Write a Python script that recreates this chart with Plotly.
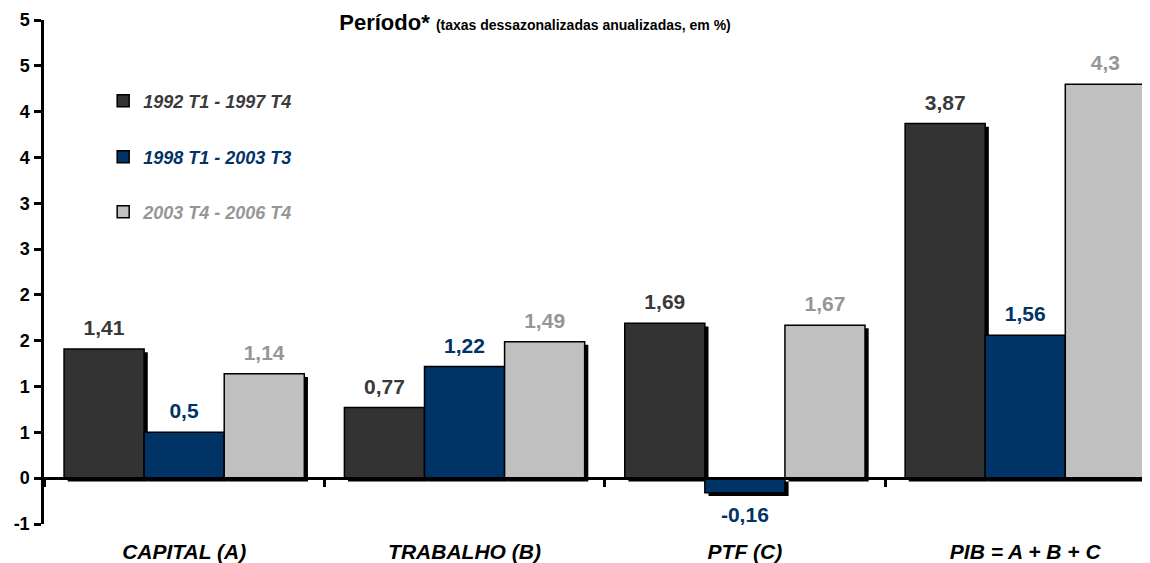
import plotly.graph_objects as go

categories = ["CAPITAL (A)", "TRABALHO (B)", "PTF (C)", "PIB = A + B + C"]
periods = ["1992 T1 - 1997 T4", "1998 T1 - 2003 T3", "2003 T4 - 2006 T4"]
values_1992_1997 = [1.41, 0.77, 1.69, 3.87]
values_1998_2003 = [0.5, 1.22, -0.16, 1.56]
values_2003_2006 = [1.14, 1.49, 1.67, 4.3]
ytick_vals = [-0.5, 0, 0.5, 1, 1.5, 2, 2.5, 3, 3.5, 4, 4.5, 5]
ytick_text = ["-1", "0", "1", "1", "2", "2", "3", "3", "4", "4", "5", "5"]

series = [values_1992_1997, values_1998_2003, values_2003_2006]
bar_colors = ["#333333", "#003366", "#c0c0c0"]
label_colors = ["#3a3a3a", "#003366", "#969696"]
legend_names = ["legend", "legend2", "legend3"]
legend_y = [0.839, 0.728, 0.619]

FONT = "Liberation Sans, Arial, sans-serif"
y_range = [-0.5, 5]
group_width = 0.857
bar_w = group_width / len(series)
shadow_dx = 0.013
shadow_dy = 0.035
label_pad = 0.075  # extra room between bar end and its value label


def fmt(v):
    return f"{v:g}".replace(".", ",")


fig = go.Figure()

# shadows first so they sit underneath
for i, vals in enumerate(series):
    off = -group_width / 2 + i * bar_w
    fig.add_trace(
        go.Bar(
            x=categories,
            y=vals,
            base=-shadow_dy,
            offset=off + shadow_dx,
            width=bar_w,
            marker=dict(color="black", line=dict(width=0)),
            showlegend=False,
            hoverinfo="skip",
        )
    )

for i, vals in enumerate(series):
    off = -group_width / 2 + i * bar_w
    fig.add_trace(
        go.Bar(
            x=categories,
            y=vals,
            offset=off,
            width=bar_w,
            name=periods[i],
            legend=legend_names[i],
            marker=dict(color=bar_colors[i], line=dict(color="black", width=1.5)),
        )
    )
    # transparent twin bar that only carries the value label
    fig.add_trace(
        go.Bar(
            x=categories,
            y=[v + (label_pad if v >= 0 else -label_pad) for v in vals],
            offset=off,
            width=bar_w,
            marker=dict(color="rgba(0,0,0,0)", line=dict(width=0)),
            text=[fmt(v) for v in vals],
            textposition="outside",
            textfont=dict(family=FONT, size=21, color=label_colors[i], weight="bold"),
            cliponaxis=False,
            showlegend=False,
            hoverinfo="skip",
        )
    )

legends = {}
for i, name in enumerate(legend_names):
    legends[name] = dict(
        x=0.0535,
        y=legend_y[i],
        xanchor="left",
        yanchor="middle",
        bgcolor="rgba(0,0,0,0)",
        font=dict(family=FONT, size=18, color=label_colors[i], weight="bold", style="italic"),
    )

# the page body adds an 8px margin, so the figure is 8px smaller than the window
fig.update_layout(
    width=1142,
    height=555,
    margin=dict(l=36, r=0, t=12, b=39),
    plot_bgcolor="white",
    paper_bgcolor="white",
    barmode="overlay",
    font=dict(family=FONT, color="black"),
    title=dict(
        text="<b>Período*</b> <span style='font-size:14px'><b>(taxas dessazonalizadas anualizadas, em %)</b></span>",
        x=0.4615,
        xanchor="center",
        y=0.988,
        yanchor="top",
        font=dict(family=FONT, size=22, color="black"),
    ),
    xaxis=dict(
        type="category",
        categoryorder="array",
        categoryarray=categories,
        range=[-0.5, 3.445],
        anchor="free",
        position=(0 - y_range[0]) / (y_range[1] - y_range[0]),
        automargin=False,
        showline=True,
        linecolor="black",
        linewidth=2.5,
        ticks="outside",
        tickson="boundaries",
        ticklen=7,
        tickwidth=2.5,
        tickcolor="black",
        tickfont=dict(family=FONT, size=21, color="black", weight="bold", style="italic"),
        ticklabelstandoff=54,
        showgrid=False,
        zeroline=False,
    ),
    yaxis=dict(
        range=y_range,
        automargin=False,
        tickmode="array",
        tickvals=ytick_vals,
        ticktext=ytick_text,
        showline=True,
        linecolor="black",
        linewidth=2.5,
        ticks="outside",
        ticklen=7,
        tickwidth=2.5,
        tickcolor="black",
        tickfont=dict(family=FONT, size=18, color="black", weight="bold"),
        ticklabelstandoff=1,
        showgrid=False,
        zeroline=False,
    ),
    **legends,
)

fig.write_html("out.html")
